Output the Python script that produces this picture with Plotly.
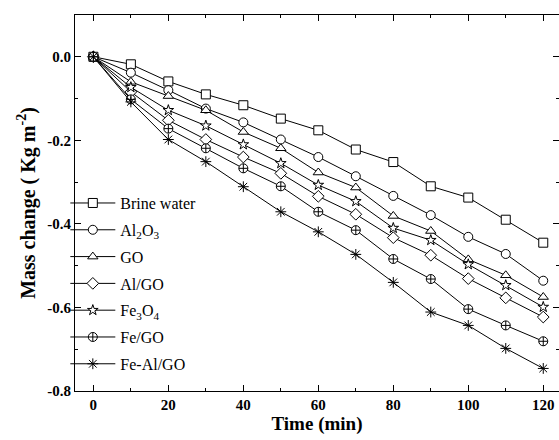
import plotly.graph_objects as go

time_min = [0, 10, 20, 30, 40, 50, 60, 70, 80, 90, 100, 110, 120]

brine_water = [0, -0.018, -0.059, -0.090, -0.116, -0.148, -0.176, -0.222, -0.252, -0.310, -0.337, -0.390, -0.445]
al2o3 = [0, -0.038, -0.080, -0.124, -0.157, -0.198, -0.240, -0.286, -0.333, -0.379, -0.431, -0.472, -0.536]
go_ = [0, -0.060, -0.094, -0.128, -0.180, -0.219, -0.277, -0.313, -0.381, -0.417, -0.485, -0.523, -0.575]
al_go = [0, -0.084, -0.152, -0.198, -0.240, -0.279, -0.334, -0.377, -0.433, -0.475, -0.531, -0.577, -0.623]
fe3o4 = [0, -0.073, -0.128, -0.165, -0.210, -0.255, -0.307, -0.346, -0.410, -0.439, -0.497, -0.547, -0.599]
fe_go = [0, -0.102, -0.172, -0.219, -0.267, -0.310, -0.371, -0.415, -0.484, -0.532, -0.604, -0.643, -0.681]
fe_al_go = [0, -0.108, -0.198, -0.251, -0.311, -0.371, -0.419, -0.473, -0.540, -0.611, -0.643, -0.698, -0.746]

series_names = ["Brine water", "Al<sub>2</sub>O<sub>3</sub>", "GO", "Al/GO",
                "Fe<sub>3</sub>O<sub>4</sub>", "Fe/GO", "Fe-Al/GO"]
series_values = [brine_water, al2o3, go_, al_go, fe3o4, fe_go, fe_al_go]
symbols = ["square", "circle", "triangle-up", "diamond", "star", "circle-cross", "asterisk-open"]

x_tick_vals = [0, 20, 40, 60, 80, 100, 120]
x_tick_text = ["0", "20", "40", "60", "80", "100", "120"]
y_tick_vals = [0.0, -0.2, -0.4, -0.6, -0.8]
y_tick_text = ["0.0", "-0.2", "-0.4", "-0.6", "-0.8"]

SERIF = "Liberation Serif"

fig = go.Figure()
for i, (name, vals, sym) in enumerate(zip(series_names, series_values, symbols)):
    is_open_line = sym.endswith("-open")
    size = 8 if sym == "star" else 9
    fig.add_trace(go.Scatter(
        x=time_min, y=vals, name=name, mode="lines+markers",
        legendgroup=f"g{i}",
        line=dict(color="black", width=1),
        marker=dict(symbol=sym, size=size,
                    color="black" if is_open_line else "white",
                    line=dict(color="black", width=1)),
    ))

fig.update_layout(
    width=559, height=440,
    margin=dict(l=75, r=0, t=15, b=49),
    plot_bgcolor="white", paper_bgcolor="white",
    font=dict(family=SERIF, color="black"),
    showlegend=True,
    legend=dict(x=-0.02, y=0.545, xanchor="left", yanchor="top",
                bgcolor="rgba(0,0,0,0)", font=dict(family=SERIF, size=16),
                tracegroupgap=3, itemwidth=45),
    xaxis=dict(
        range=[-4.9, 124.2], showline=True, linecolor="black", linewidth=1,
        mirror="ticks", ticks="inside", ticklen=6, tickcolor="black",
        tickvals=x_tick_vals, ticktext=x_tick_text,
        minor=dict(dtick=10, tick0=0, ticks="inside", ticklen=3, tickcolor="black"),
        showgrid=False, zeroline=False,
        tickfont=dict(family=SERIF, size=15, weight="bold"),
        title=dict(text="Time (min)", font=dict(family=SERIF, size=19, weight="bold"), standoff=4),
    ),
    yaxis=dict(
        range=[-0.8, 0.1], showline=True, linecolor="black", linewidth=1,
        mirror="ticks", ticks="inside", ticklen=6, tickcolor="black",
        tickvals=y_tick_vals, ticktext=y_tick_text,
        minor=dict(dtick=0.1, tick0=0, ticks="inside", ticklen=3, tickcolor="black"),
        showgrid=False, zeroline=False,
        tickfont=dict(family=SERIF, size=15, weight="bold"),
        title=dict(text="Mass change ( Kg m<sup>-2</sup>)", font=dict(family=SERIF, size=20, weight="bold"), standoff=6),
    ),
)

fig.write_html("out.html")
